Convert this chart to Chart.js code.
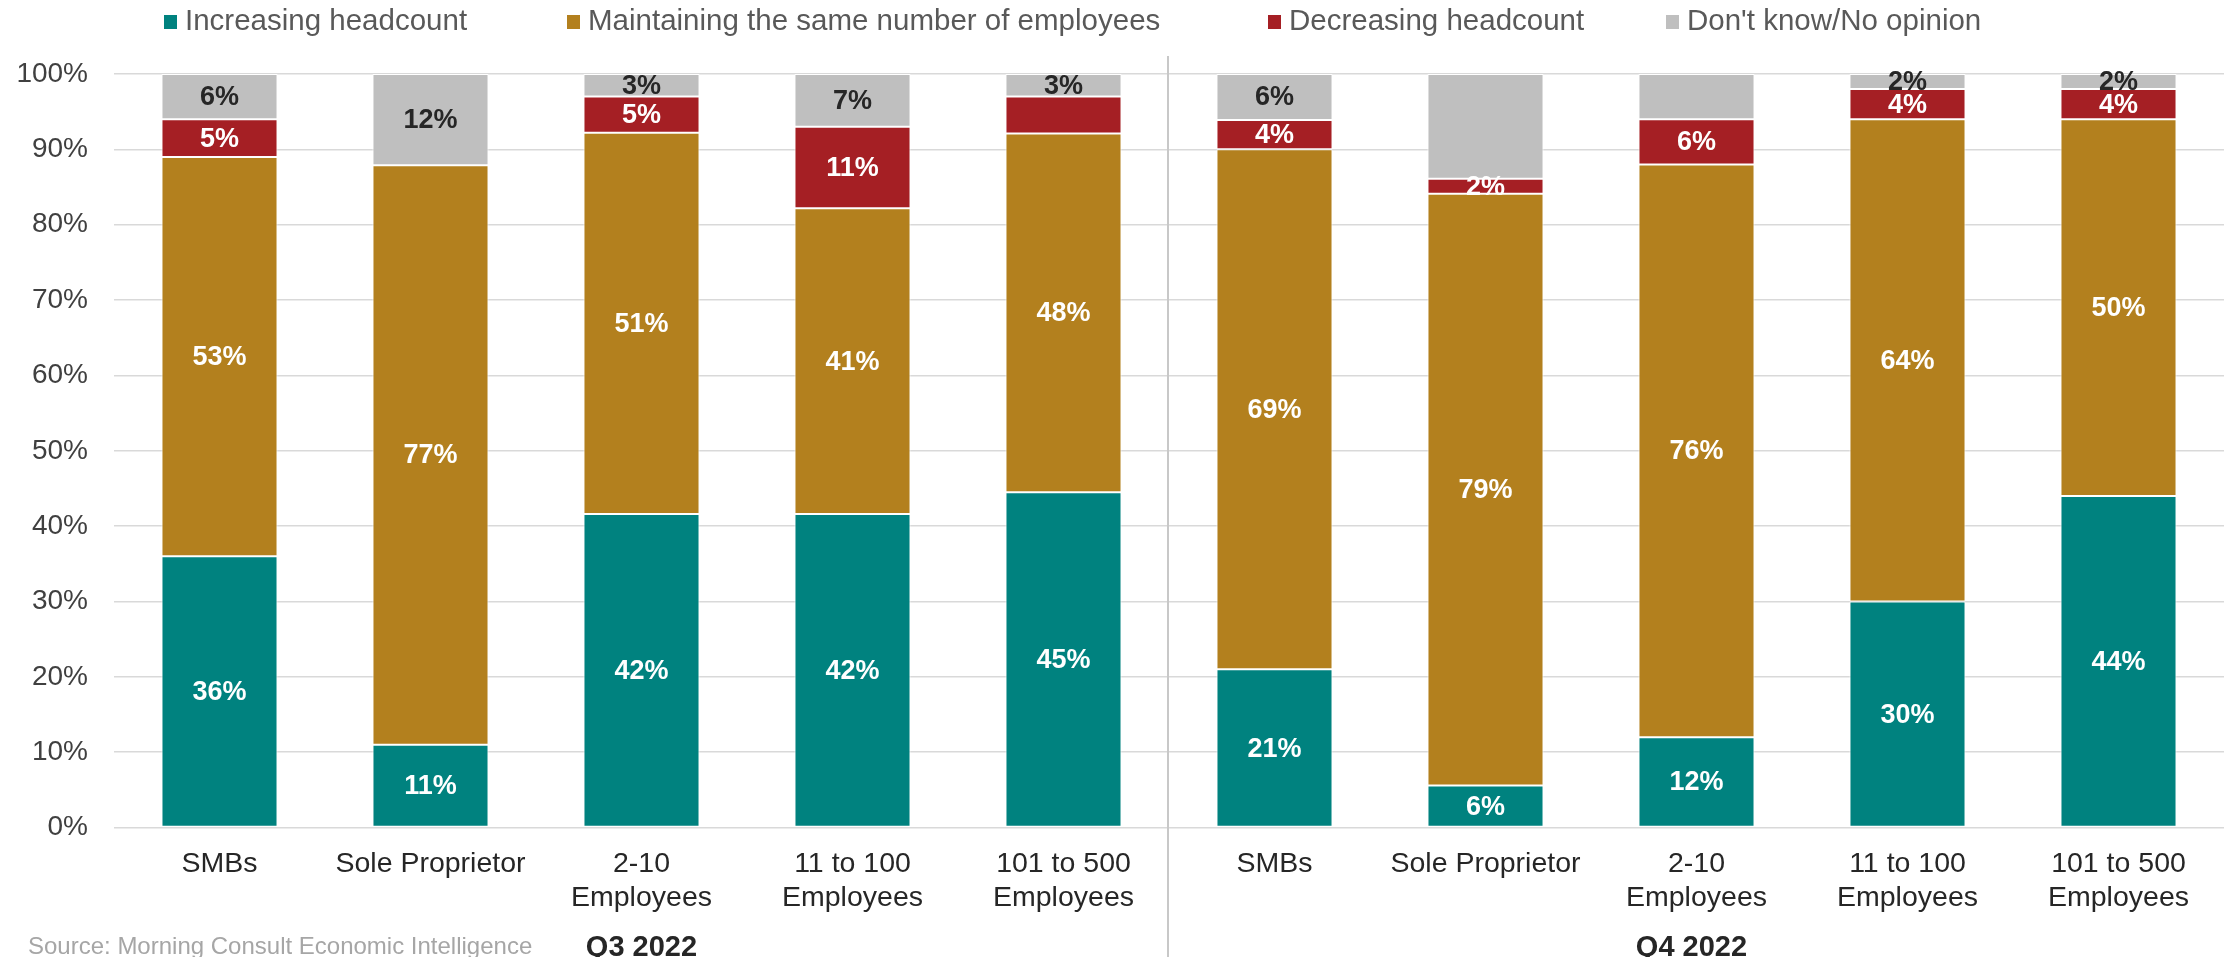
<!DOCTYPE html>
<html>
<head>
<meta charset="utf-8">
<script src="https://cdn.jsdelivr.net/npm/chart.js@4.4.1/dist/chart.umd.min.js"></script>
<style>
html,body{margin:0;padding:0;background:#fff;}
#wrap{position:relative;width:2234px;height:957px;}
</style>
</head>
<body>
<div id="wrap"><canvas id="c" width="2234" height="957"></canvas></div>
<script>
// ---- data ----
const categories = [
  'SMBs', 'Sole Proprietor', ['2-10', 'Employees'], ['11 to 100', 'Employees'], ['101 to 500', 'Employees'],
  'SMBs', 'Sole Proprietor', ['2-10', 'Employees'], ['11 to 100', 'Employees'], ['101 to 500', 'Employees']
];
const groupLabels = ['Q3 2022', 'Q4 2022'];
const seriesNames = ['Increasing headcount', 'Maintaining the same number of employees', 'Decreasing headcount', "Don't know/No opinion"];
const increasing  = [36.0, 11.0, 41.6, 41.6, 44.5, 21.0,  5.6, 12.0, 30.0, 44.0];
const maintaining = [53.0, 76.9, 50.6, 40.6, 47.6, 69.0, 78.5, 76.0, 64.0, 50.0];
const decreasing  = [ 5.0,  0.0,  4.8, 10.8,  4.9,  3.9,  2.0,  6.0,  4.0,  4.0];
const dontKnow    = [ 6.0, 12.1,  3.0,  7.0,  3.0,  6.1, 13.9,  6.0,  2.0,  2.0];
// segments shown without a value label: [series index, category index]
const unlabeled = [[2, 4], [3, 6], [3, 7]];
const yTicks = [0, 10, 20, 30, 40, 50, 60, 70, 80, 90, 100];
const sourceNote = 'Source: Morning Consult Economic Intelligence';

const colors = ['#00827F', '#B3801E', '#A51F24', '#BFBFBF'];
const FONT = "'Liberation Sans', Arial, sans-serif";

const seriesValues = [increasing, maintaining, decreasing, dontKnow];
const datasets = seriesNames.map((name, i) => ({
  label: name,
  data: seriesValues[i],
  backgroundColor: colors[i],
  borderColor: '#ffffff',
  borderWidth: 1,
  borderSkipped: false,
  categoryPercentage: 1.0,
  barPercentage: 0.55
}));

const extrasPlugin = {
  id: 'extras',
  afterDatasetsDraw(chart) {
    const ctx = chart.ctx;
    ctx.save();
    ctx.font = "bold 27px " + FONT;
    ctx.textAlign = 'center';
    ctx.textBaseline = 'middle';
    chart.data.datasets.forEach((ds, di) => {
      const meta = chart.getDatasetMeta(di);
      meta.data.forEach((bar, idx) => {
        const v = ds.data[idx];
        if (!v) return;
        if (unlabeled.some(p => p[0] === di && p[1] === idx)) return;
        ctx.fillStyle = di === 3 ? '#262626' : '#ffffff';
        ctx.fillText(Math.round(v) + '%', bar.x, (bar.y + bar.base) / 2 + 1);
      });
    });
    ctx.restore();
  },
  afterDraw(chart) {
    const ctx = chart.ctx;
    const xs = chart.scales.x;
    ctx.save();
    // divider between groups
    const dx = (xs.getPixelForValue(4) + xs.getPixelForValue(5)) / 2 - 1;
    ctx.strokeStyle = '#C8C8C8';
    ctx.lineWidth = 2;
    ctx.beginPath();
    ctx.moveTo(dx, 56);
    ctx.lineTo(dx, 957);
    ctx.stroke();
    // group labels
    ctx.font = "bold 29px " + FONT;
    ctx.fillStyle = '#262626';
    ctx.textAlign = 'center';
    ctx.textBaseline = 'middle';
    ctx.fillText(groupLabels[0], xs.getPixelForValue(2), 948);
    ctx.fillText(groupLabels[1], xs.getPixelForValue(7) - 5, 948);
    // source
    ctx.font = "24px " + FONT;
    ctx.fillStyle = '#A6A6A6';
    ctx.textAlign = 'left';
    ctx.fillText(sourceNote, 28, 947);
    // legend
    const lx = [164, 567, 1268, 1666];
    ctx.font = "29.5px " + FONT;
    ctx.textBaseline = 'middle';
    chart.data.datasets.forEach((ds, i) => {
      ctx.fillStyle = ds.backgroundColor;
      ctx.fillRect(lx[i], 15, 13, 14);
      ctx.fillStyle = '#595959';
      ctx.fillText(ds.label, lx[i] + 21, 22);
    });
    ctx.restore();
  }
};

new Chart(document.getElementById('c'), {
  type: 'bar',
  data: { labels: categories, datasets },
  plugins: [extrasPlugin],
  options: {
    responsive: false,
    animation: false,
    events: [],
    layout: { padding: { left: 17, right: 10, top: 74, bottom: 31 } },
    plugins: { legend: { display: false }, tooltip: { enabled: false } },
    scales: {
      x: {
        stacked: true,
        grid: { display: false },
        border: { display: false },
        ticks: { color: '#262626', font: { family: FONT, size: 28.5 }, padding: 11, maxRotation: 0, autoSkip: false }
      },
      y: {
        stacked: true,
        min: 0, max: 100,
        afterBuildTicks(scale) { scale.ticks = yTicks.map(v => ({ value: v })); },
        afterFit(scale) { scale.width = 97; },
        grid: { color: '#D9D9D9', lineWidth: 1.5, drawTicks: false },
        border: { display: false },
        ticks: { color: '#404040', font: { family: FONT, size: 28 }, padding: 26, callback: v => v + '%' }
      }
    }
  }
});
</script>
</body>
</html>
